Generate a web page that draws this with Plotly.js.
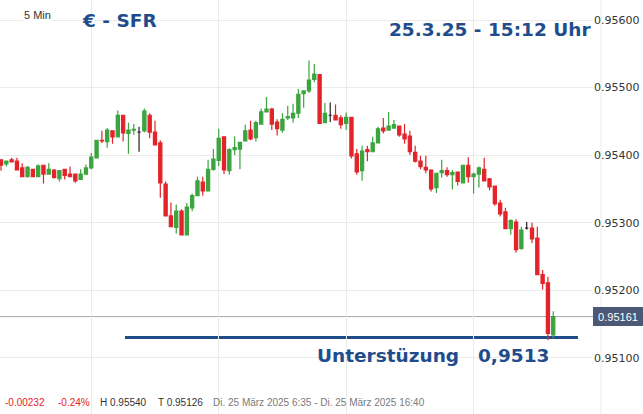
<!DOCTYPE html>
<html>
<head>
<meta charset="utf-8">
<script src="https://cdn.plot.ly/plotly-3.0.1.min.js"></script>
<style>
  html, body { margin: 0; padding: 0; background: #fff; }
  #chart { width: 643px; height: 414px; }
</style>
</head>
<body>
<div id="chart"></div>
<script>
// ---- data (EUR/CHF 5-minute candles, 25 March 2025) ----
const startTime = "06:35";
const stepMinutes = 5;
const openVals = [0.95393,0.95387,0.95393,0.95391,0.95381,0.95368,0.95379,0.95368,0.95385,0.95372,
  0.95378,0.95365,0.95379,0.95372,0.95372,0.95364,0.95372,0.95381,0.95396,0.95422,
  0.95420,0.95436,0.95427,0.95459,0.95432,0.95437,0.95434,0.95436,0.95459,0.95434,
  0.95418,0.95357,0.95310,0.95293,0.95317,0.95282,0.95322,0.95340,0.95360,0.95347,
  0.95379,0.95392,0.95427,0.95377,0.95408,0.95409,0.95421,0.95437,0.95426,0.95446,
  0.95464,0.95468,0.95449,0.95437,0.95455,0.95455,0.95462,0.95491,0.95495,0.95512,
  0.95519,0.95448,0.95459,0.95459,0.95455,0.95447,0.95456,0.95402,0.95377,0.95408,
  0.95405,0.95418,0.95440,0.95437,0.95440,0.95443,0.95431,0.95428,0.95404,0.95391,
  0.95382,0.95378,0.95352,0.95374,0.95377,0.95371,0.95375,0.95359,0.95385,0.95368,
  0.95372,0.95379,0.95365,0.95354,0.95329,0.95316,0.95291,0.95301,0.95262,0.95292,
  0.95292,0.95277,0.95223,0.95211,0.95134];
const highVals = [0.95393,0.95391,0.95396,0.95396,0.95388,0.95384,0.95379,0.95386,0.95385,0.95388,
  0.95379,0.95378,0.95379,0.95383,0.95372,0.95379,0.95386,0.95403,0.95422,0.95436,
  0.95440,0.95436,0.95466,0.95459,0.95448,0.95446,0.95442,0.95469,0.95462,0.95451,
  0.95422,0.95361,0.95330,0.95327,0.95320,0.95329,0.95343,0.95368,0.95368,0.95393,
  0.95409,0.95439,0.95427,0.95410,0.95428,0.95419,0.95445,0.95451,0.95451,0.95469,
  0.95486,0.95470,0.95453,0.95462,0.95473,0.95476,0.95498,0.95495,0.95540,0.95535,
  0.95519,0.95477,0.95478,0.95475,0.95459,0.95463,0.95456,0.95409,0.95414,0.95414,
  0.95427,0.95442,0.95455,0.95464,0.95452,0.95443,0.95446,0.95436,0.95414,0.95399,
  0.95399,0.95379,0.95373,0.95393,0.95382,0.95378,0.95375,0.95385,0.95397,0.95374,
  0.95383,0.95396,0.95366,0.95354,0.95334,0.95322,0.95305,0.95305,0.95294,0.95301,
  0.95300,0.95294,0.95230,0.95220,0.95169];
const lowVals = [0.95377,0.95383,0.95389,0.95378,0.95368,0.95367,0.95368,0.95368,0.95358,0.95371,
  0.95365,0.95361,0.95364,0.95368,0.95359,0.95364,0.95372,0.95379,0.95396,0.95418,
  0.95411,0.95417,0.95427,0.95420,0.95402,0.95430,0.95405,0.95434,0.95425,0.95415,
  0.95337,0.95309,0.95294,0.95284,0.95282,0.95281,0.95317,0.95340,0.95340,0.95347,
  0.95377,0.95384,0.95372,0.95371,0.95400,0.95379,0.95421,0.95422,0.95420,0.95446,
  0.95464,0.95437,0.95429,0.95433,0.95452,0.95448,0.95455,0.95470,0.95492,0.95508,
  0.95447,0.95448,0.95449,0.95452,0.95439,0.95437,0.95395,0.95371,0.95362,0.95391,
  0.95405,0.95418,0.95432,0.95437,0.95439,0.95427,0.95417,0.95400,0.95389,0.95379,
  0.95373,0.95346,0.95344,0.95367,0.95368,0.95349,0.95355,0.95359,0.95359,0.95343,
  0.95352,0.95361,0.95348,0.95325,0.95309,0.95291,0.95282,0.95256,0.95260,0.95290,
  0.95270,0.95222,0.95201,0.95126,0.95129];
const closeVals = [0.95385,0.95391,0.95390,0.95378,0.95368,0.95382,0.95368,0.95384,0.95372,0.95379,
  0.95367,0.95377,0.95370,0.95368,0.95362,0.95372,0.95381,0.95397,0.95422,0.95421,
  0.95437,0.95427,0.95459,0.95433,0.95437,0.95438,0.95434,0.95465,0.95434,0.95415,
  0.95359,0.95310,0.95294,0.95317,0.95282,0.95323,0.95340,0.95362,0.95347,0.95379,
  0.95394,0.95425,0.95378,0.95408,0.95411,0.95419,0.95436,0.95424,0.95448,0.95464,
  0.95468,0.95446,0.95439,0.95453,0.95457,0.95462,0.95490,0.95495,0.95511,0.95520,
  0.95447,0.95462,0.95459,0.95452,0.95445,0.95456,0.95399,0.95375,0.95406,0.95405,
  0.95418,0.95439,0.95436,0.95443,0.95445,0.95430,0.95424,0.95405,0.95391,0.95383,
  0.95378,0.95350,0.95373,0.95377,0.95371,0.95374,0.95361,0.95385,0.95368,0.95372,
  0.95381,0.95362,0.95353,0.95328,0.95313,0.95291,0.95303,0.95260,0.95289,0.95292,
  0.95276,0.95223,0.95210,0.95136,0.95161];
const supportLevel = 0.9513;
const yTicks = [0.951, 0.952, 0.953, 0.954, 0.955, 0.956];
const gridTimes = ["08:00", "10:00", "12:00", "14:00"];
const titleLeft = "€ - SFR";
const titleRight = "25.3.25 - 15:12 Uhr";
const intervalLabel = "5 Min";
const supportText = "Unterstüzung";
const supportValueText = "0,9513";
const changeAbs = "-0.00232";
const changePct = "-0.24%";
const rangeText = "Di. 25 März 2025 6:35 - Di. 25 März 2025 16:40";
const day = "2025-03-25";

// ---- build ----
function pad(n){ return (n < 10 ? "0" : "") + n; }
const [sh, sm] = startTime.split(":").map(Number);
const times = openVals.map((_, i) => {
  const t = sh * 60 + sm + stepMinutes * i;
  return day + " " + pad(Math.floor(t / 60)) + ":" + pad(t % 60);
});

const main = {x:[],open:[],high:[],low:[],close:[]};
const doji = {x:[],open:[],high:[],low:[],close:[]};
times.forEach((t, i) => {
  const tgt = (openVals[i] === closeVals[i]) ? doji : main;
  tgt.x.push(t); tgt.open.push(openVals[i]); tgt.high.push(highVals[i]);
  tgt.low.push(lowVals[i]); tgt.close.push(closeVals[i]);
});

const RED = "#e3232a", GREEN = "#3ba43f", BLUE = "#1f4d8c";
const W = 643, H = 414, MR = 50, PW = W - MR;
const px = x => x / PW;
const py = y => 1 - y / H;

const traces = [
  Object.assign({type:"candlestick", hoverinfo:"x+y",
    increasing:{line:{color:GREEN, width:1.2}, fillcolor:GREEN},
    decreasing:{line:{color:RED, width:1.2}, fillcolor:RED},
    showlegend:false}, main),
  Object.assign({type:"candlestick", hoverinfo:"x+y",
    increasing:{line:{color:"#222", width:1.2}, fillcolor:"#222"},
    decreasing:{line:{color:"#222", width:1.2}, fillcolor:"#222"},
    showlegend:false}, doji)
];

const lastClose = closeVals[closeVals.length - 1];
const hi = Math.max(...highVals), lo = Math.min(...lowVals);

const grid = "#ebebeb";
const botFont = {family:"Liberation Sans", size:10, color:"#333"};
const layout = {
  width: W, height: H,
  margin: {l:0, r:MR, t:0, b:0},
  paper_bgcolor: "#fff", plot_bgcolor: "#fff",
  boxgap: 0.15,
  showlegend: false,
  xaxis: {type:"date", range:[day + " 06:34:03.5", day + " 15:52:26.4"],
    tickvals: gridTimes.map(t => day + " " + t), showticklabels:false, ticks:"",
    showgrid:true, gridcolor:grid, gridwidth:1, zeroline:false, showline:false,
    rangeslider:{visible:false}, fixedrange:true},
  yaxis: {side:"right", range:[0.950168, 0.956296], tickvals:yTicks, tickformat:".5f",
    tickfont:{family:"DejaVu Sans", size:11, color:"#333"}, ticks:"",
    showgrid:true, gridcolor:grid, gridwidth:1, zeroline:false, showline:false, fixedrange:true},
  shapes: [
    {type:"line", xref:"paper", yref:"paper", x0:px(601), x1:px(601), y0:0, y1:1,
      line:{color:grid, width:1}, layer:"below"},
    {type:"line", xref:"paper", yref:"y", x0:0, x1:1, y0:lastClose, y1:lastClose,
      line:{color:"#a3a9b3", width:1}, layer:"between"},
    {type:"line", xref:"paper", yref:"y", x0:px(125), x1:px(578), y0:supportLevel, y1:supportLevel,
      line:{color:BLUE, width:3}, layer:"between"}
  ],
  annotations: [
    {xref:"paper", yref:"paper", x:px(23), y:py(15), xanchor:"left", yanchor:"middle",
      text:intervalLabel, showarrow:false, bgcolor:"#fff", borderpad:1, borderwidth:0,
      font:{family:"Liberation Sans", size:11, color:"#333"}},
    {xref:"paper", yref:"paper", x:px(82), y:py(20.5), xanchor:"left", yanchor:"middle",
      text:"<b>" + titleLeft + "</b>", showarrow:false, borderpad:0, borderwidth:0,
      font:{family:"DejaVu Sans", size:18.5, color:BLUE}},
    {xref:"paper", yref:"paper", x:px(591), y:py(29.5), xanchor:"right", yanchor:"middle",
      text:"<b>" + titleRight + "</b>", showarrow:false, borderpad:0, borderwidth:0,
      font:{family:"DejaVu Sans", size:18.5, color:BLUE}},
    {xref:"paper", yref:"paper", x:px(317), y:py(355), xanchor:"left", yanchor:"middle",
      text:"<b>" + supportText + "</b>", showarrow:false, borderpad:0, borderwidth:0,
      font:{family:"DejaVu Sans", size:18.5, color:BLUE}},
    {xref:"paper", yref:"paper", x:px(549), y:py(355), xanchor:"right", yanchor:"middle",
      text:"<b>" + supportValueText + "</b>", showarrow:false, borderpad:0, borderwidth:0,
      font:{family:"DejaVu Sans", size:18.5, color:BLUE}},
    {xref:"paper", yref:"y", x:1, y:lastClose, xanchor:"left", yanchor:"middle",
      text:lastClose.toFixed(5), showarrow:false, bgcolor:"#4b5977", bordercolor:"#4b5977",
      borderwidth:1, borderpad:2, width:44, height:13,
      font:{family:"Liberation Sans", size:11, color:"#fff"}},
    {xref:"paper", yref:"paper", x:px(5), y:py(402), xanchor:"left", yanchor:"middle",
      text:changeAbs, showarrow:false, borderpad:0, borderwidth:0,
      font:Object.assign({}, botFont, {color:RED})},
    {xref:"paper", yref:"paper", x:px(58), y:py(402), xanchor:"left", yanchor:"middle",
      text:changePct, showarrow:false, borderpad:0, borderwidth:0,
      font:Object.assign({}, botFont, {color:RED})},
    {xref:"paper", yref:"paper", x:px(100), y:py(402), xanchor:"left", yanchor:"middle",
      text:"H " + hi.toFixed(5), showarrow:false, borderpad:0, borderwidth:0, font:botFont},
    {xref:"paper", yref:"paper", x:px(158), y:py(402), xanchor:"left", yanchor:"middle",
      text:"T " + lo.toFixed(5), showarrow:false, borderpad:0, borderwidth:0, font:botFont},
    {xref:"paper", yref:"paper", x:px(213), y:py(402), xanchor:"left", yanchor:"middle",
      text:rangeText, showarrow:false, borderpad:0, borderwidth:0,
      font:Object.assign({}, botFont, {color:"#7a7a7a"})}
  ]
};

Plotly.newPlot("chart", traces, layout, {staticPlot:true, displayModeBar:false});
</script>
</body>
</html>
